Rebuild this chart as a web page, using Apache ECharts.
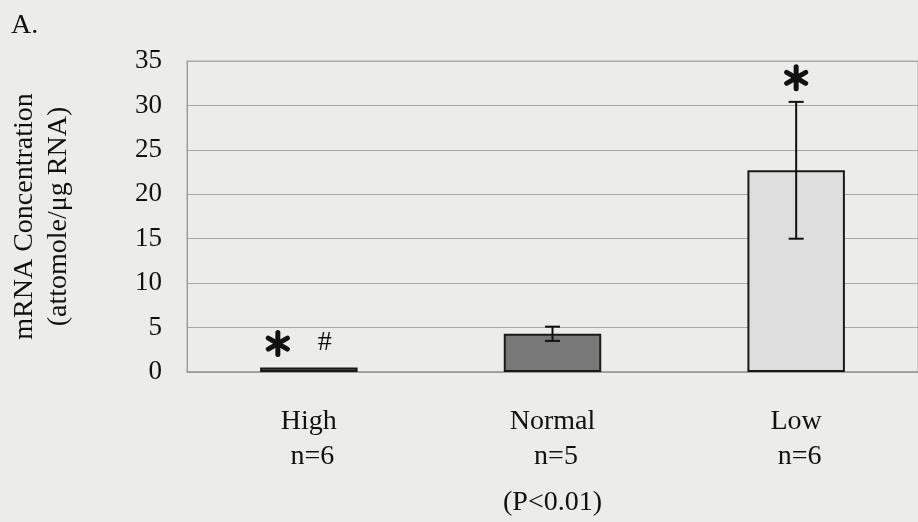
<!DOCTYPE html>
<html><head><meta charset="utf-8">
<script src="https://cdn.jsdelivr.net/npm/echarts@6/dist/echarts.min.js"></script>
<style>html,body{margin:0;padding:0;background:#ececea;}#c{width:918px;height:522px;}</style>
</head><body><div id="c"></div>
<script>
const categories = ['High\n n=6', 'Normal\n n=5', 'Low\n n=6'];
const means = [0.5, 4.3, 22.7];
const errors = [0, 0.8, 7.7];
const barColors = ['#5a5a5a', '#787878', '#dedede'];
const yTicks = [0, 5, 10, 15, 20, 25, 30, 35];
const starMarks = [true, false, true];
const hashMarks = ['#', '', ''];

const font = '"Liberation Serif", "DejaVu Serif", serif';
const chart = echarts.init(document.getElementById('c'));

function asterisk(cx, cy, r) {
  const lines = [];
  for (let k = 0; k < 3; k++) {
    const a = Math.PI / 2 + k * Math.PI / 3;
    lines.push({type: 'line', shape: {x1: cx - r * Math.cos(a), y1: cy - r * Math.sin(a), x2: cx + r * Math.cos(a), y2: cy + r * Math.sin(a)},
      style: {stroke: '#111', lineWidth: 5, lineCap: 'round'}});
  }
  lines.push({type: 'circle', shape: {cx: cx, cy: cy, r: 3}, style: {fill: '#111'}});
  return lines;
}

chart.setOption({
  backgroundColor: '#ececea',
  animation: false,
  grid: {left: 187, right: -6, top: 61, bottom: 147, show: true, borderColor: '#aaaaaa', borderWidth: 1},
  graphic: [{type: 'text', left: 11, top: 12, style: {text: 'A.', font: '28px ' + font, fill: '#111'}}],
  xAxis: {
    type: 'category', data: categories,
    axisLine: {lineStyle: {color: '#999', width: 1.5}},
    axisTick: {show: false},
    axisLabel: {fontFamily: font, fontSize: 28, color: '#111', margin: 32, lineHeight: 35},
    name: '(P<0.01)', nameLocation: 'middle', nameGap: 117,
    nameTextStyle: {fontFamily: font, fontSize: 28, color: '#111'}
  },
  yAxis: {
    type: 'value', min: 0, max: 35, interval: 5,
    axisLine: {show: true, lineStyle: {color: '#999'}},
    axisTick: {show: false},
    splitLine: {lineStyle: {color: '#a9a9a9', width: 1.2}},
    axisLabel: {fontFamily: font, fontSize: 27, color: '#111', margin: 25,
      formatter: v => yTicks.includes(v) ? String(v) : ''},
    name: 'mRNA Concentration\n(attomole/μg RNA)', nameLocation: 'middle', nameGap: 111,
    nameTextStyle: {fontFamily: font, fontSize: 28, color: '#111', lineHeight: 34}
  },
  series: [
    {
      type: 'bar', barWidth: '40%',
      data: means.map((v, i) => ({value: v, itemStyle: {color: barColors[i]}})),
      itemStyle: {borderColor: '#1a1a1a', borderWidth: 2}
    },
    {
      type: 'custom',
      data: means.map((m, i) => [i, m - errors[i], m + errors[i]]),
      renderItem: function (params, api) {
        if (api.value(2) - api.value(1) === 0) return null;
        const lo = api.coord([api.value(0), api.value(1)]);
        const hi = api.coord([api.value(0), api.value(2)]);
        const w = 7.5;
        const st = {stroke: '#111', lineWidth: 2};
        return {type: 'group', children: [
          {type: 'line', shape: {x1: hi[0], y1: hi[1], x2: lo[0], y2: lo[1]}, style: st},
          {type: 'line', shape: {x1: hi[0] - w, y1: hi[1], x2: hi[0] + w, y2: hi[1]}, style: st},
          {type: 'line', shape: {x1: lo[0] - w, y1: lo[1], x2: lo[0] + w, y2: lo[1]}, style: st}
        ]};
      },
      z: 5
    },
    {
      type: 'custom',
      data: means.map((m, i) => [i, m + errors[i]]),
      renderItem: function (params, api) {
        const i = params.dataIndex;
        const p = api.coord([api.value(0), api.value(1)]);
        let children = [];
        if (starMarks[i]) {
          const dx = hashMarks[i] ? -31 : 0;
          children = children.concat(asterisk(p[0] + dx, p[1] - 24, 11));
        }
        if (hashMarks[i]) {
          children.push({type: 'text', x: p[0] + 16, y: p[1] - 25,
            style: {text: hashMarks[i], font: '28px ' + font, fill: '#111', align: 'center', verticalAlign: 'middle'}});
        }
        return {type: 'group', children: children};
      },
      z: 6
    }
  ]
});
</script></body></html>
